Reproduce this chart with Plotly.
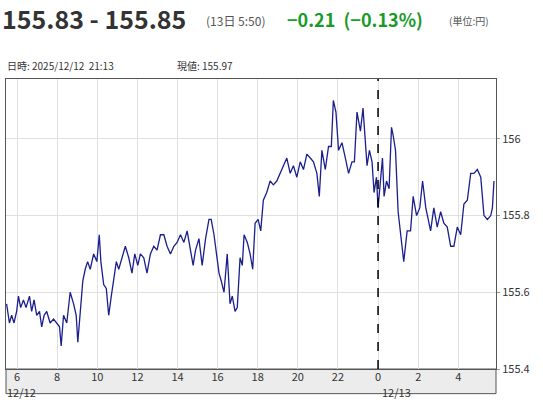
import plotly.graph_objects as go

# hours since 12/12 00:00
hours = [5.48,5.62,5.73,5.85,5.98,6.07,6.18,6.32,6.45,6.62,6.73,6.85,6.98,7.12,7.23,7.35,7.48,7.65,7.82,7.98,8.12,8.2,8.32,8.48,8.65,8.82,8.95,9.03,9.15,9.28,9.4,9.52,9.65,9.82,9.98,10.1,10.18,10.32,10.45,10.57,10.7,10.82,10.95,11.07,11.23,11.4,11.57,11.73,11.87,12.02,12.15,12.32,12.48,12.65,12.82,12.98,13.15,13.32,13.48,13.65,13.82,13.98,14.15,14.32,14.48,14.65,14.78,14.9,15.07,15.23,15.4,15.57,15.68,15.82,15.95,16.07,16.18,16.32,16.48,16.62,16.73,16.87,16.98,17.12,17.23,17.32,17.48,
         17.62,17.75,17.87,18.02,18.15,18.28,18.45,18.62,18.78,18.95,19.12,19.28,19.45,19.62,19.78,19.95,20.12,20.28,20.45,20.62,20.78,20.95,21.07,21.2,21.37,21.53,21.67,21.77,21.9,22.03,22.2,22.37,22.53,22.7,22.82,22.95,23.12,23.25,23.35,23.45,23.57,23.7,23.8,23.92,24.0,24.12,24.22,24.3,24.42,24.55,24.67,24.75,24.87,25.0,25.12,25.28,25.45,25.62,25.75,25.92,26.08,26.22,26.38,26.62,26.78,26.95,27.12,27.28,27.45,27.62,27.78,27.95,28.12,28.28,28.45,28.62,28.78,28.95,29.12,29.28,29.45,29.62,29.7,29.78]
prices = [155.57,155.52,155.54,155.52,155.55,155.59,155.56,155.58,155.56,155.59,155.55,155.58,155.54,155.55,155.51,155.54,155.55,155.52,155.53,155.52,155.51,155.46,155.54,155.52,155.60,155.57,155.54,155.47,155.56,155.63,155.66,155.68,155.66,155.70,155.68,155.75,155.68,155.62,155.61,155.54,155.59,155.63,155.68,155.66,155.69,155.72,155.69,155.65,155.70,155.67,155.70,155.69,155.65,155.70,155.72,155.71,155.75,155.75,155.72,155.70,155.72,155.73,155.75,155.73,155.76,155.71,155.67,155.71,155.74,155.67,155.74,155.79,155.79,155.75,155.70,155.65,155.63,155.60,155.70,155.57,155.59,155.55,155.56,155.69,155.67,155.75,155.73,
          155.70,155.66,155.78,155.79,155.76,155.84,155.86,155.89,155.88,155.89,155.91,155.93,155.95,155.91,155.93,155.90,155.94,155.92,155.96,155.95,155.94,155.91,155.85,155.97,155.92,155.98,155.98,156.10,156.07,155.97,155.99,155.95,155.91,155.94,155.94,156.07,156.02,156.08,155.99,155.93,155.97,155.94,155.86,155.90,155.82,155.89,155.95,155.85,155.89,155.87,156.03,156.01,155.97,155.81,155.76,155.68,155.76,155.76,155.85,155.80,155.82,155.89,155.82,155.76,155.82,155.77,155.81,155.78,155.77,155.72,155.72,155.77,155.75,155.83,155.84,155.91,155.91,155.92,155.90,155.80,155.79,155.80,155.82,155.89,155.84]
tick_vals = [6,8,10,12,14,16,18,20,22,24,26,28]
tick_text = ["6","8","10","12","14","16","18","20","22","0","2","4"]
date_vals = [6.2, 24.9]
date_text = ["12/12", "12/13"]
y_ticks = [155.4,155.6,155.8,156.0]
y_text = ["155.4","155.6","155.8","156"]

fig = go.Figure()
fig.add_trace(go.Scatter(x=hours, y=prices, mode="lines", line=dict(color="#1a1f8c", width=1.3), hoverinfo="skip"))
fig.add_vline(x=24, line=dict(color="black", width=1.5, dash="dash"))
X0, X1 = 5.45, 29.88
fig.update_layout(
    width=543, height=400, margin=dict(l=6, r=47, t=79, b=31),
    paper_bgcolor="white", plot_bgcolor="white", showlegend=False,
    font=dict(family="Noto Sans CJK JP, sans-serif", size=11, color="#333"),
    xaxis=dict(range=[X0, X1], tickvals=tick_vals, ticktext=tick_text, showgrid=True, gridcolor="#e0e0e0",
               ticks="", showline=True, linecolor="#555", mirror=True, tickfont=dict(size=11), zeroline=False,
               ticklabelstandoff=-2),
    yaxis=dict(range=[155.4, 156.156], side="right", tickvals=y_ticks, ticktext=y_text, showgrid=True, gridcolor="#e0e0e0",
               showline=True, linecolor="#555", mirror=True, ticks="outside", ticklen=3, tickcolor="#999", tickfont=dict(size=11), zeroline=False),
)
fig.add_shape(type="rect", xref="paper", yref="paper", x0=0, x1=1, y0=-0.085, y1=0, fillcolor="#ececec",
              line=dict(color="#555", width=1), layer="below")
for dv, dt in zip(date_vals, date_text):
    fig.add_annotation(x=dv, xref="x", yref="paper", y=-0.078, xanchor="center", yanchor="middle", showarrow=False,
                       text=dt, font=dict(size=11, color="#333"))
fig.add_annotation(xref="paper", yref="paper", x=-0.013, y=1.21, xanchor="left", yanchor="middle", showarrow=False,
    text="<b>155.83 - 155.85</b>", font=dict(size=25, color="#333"))
fig.add_annotation(xref="paper", yref="paper", x=0.405, y=1.203, xanchor="left", yanchor="middle", showarrow=False,
    text="(13日 5:50)", font=dict(size=12, color="#555"))
fig.add_annotation(xref="paper", yref="paper", x=0.57, y=1.208, xanchor="left", yanchor="middle", showarrow=False,
    text="<b>−0.21  (−0.13%)</b>", font=dict(size=18, color="#1a9a2a"))
fig.add_annotation(xref="paper", yref="paper", x=0.9, y=1.203, xanchor="left", yanchor="middle", showarrow=False,
    text="(単位:円)", font=dict(size=10, color="#555"))
fig.add_annotation(xref="paper", yref="paper", x=-0.002, y=1.045, xanchor="left", yanchor="middle", showarrow=False,
    text="日時: 2025/12/12  21:13", font=dict(size=10, color="#333"))
fig.add_annotation(xref="paper", yref="paper", x=0.345, y=1.045, xanchor="left", yanchor="middle", showarrow=False,
    text="現値: 155.97", font=dict(size=10, color="#333"))
fig.write_html("out.html", config={"displayModeBar": False})
with open("out.html", encoding="utf-8") as f:
    html = f.read()
html = html.replace("<body>", '<body style="margin:0">', 1)
with open("out.html", "w", encoding="utf-8") as f:
    f.write(html)
